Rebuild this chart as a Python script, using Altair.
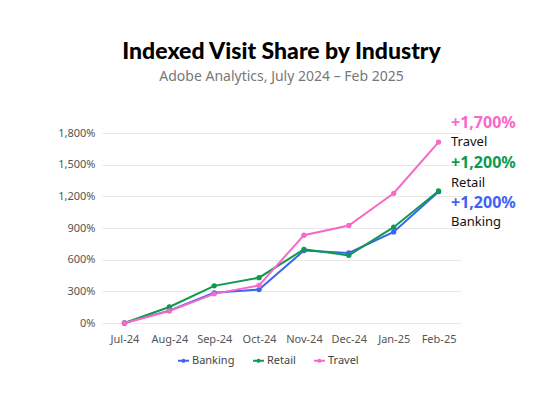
import altair as alt
import pandas as pd

months = ["Jul-24", "Aug-24", "Sep-24", "Oct-24", "Nov-24", "Dec-24", "Jan-25", "Feb-25"]
banking = [0, 117, 286, 317, 686, 663, 863, 1244]
retail = [0, 152, 352, 429, 698, 641, 908, 1251]
travel = [0, 114, 276, 356, 832, 924, 1229, 1714]
series = ["Banking", "Retail", "Travel"]
colors = ["#3E63F2", "#0E9A4E", "#F768C8"]
growth_labels = ["+1,200%", "+1,200%", "+1,700%"]

rows = []
for s, vals in zip(series, [banking, retail, travel]):
    for m, v in zip(months, vals):
        rows.append({"Month": m, "Industry": s, "Value": v / 100})
df = pd.DataFrame(rows)

FONT = "Noto Sans"
LINE_DOT = "M-1,0H1M0.18,0A0.18,0.18 0 1,1 -0.18,0A0.18,0.18 0 1,1 0.18,0"

base = alt.Chart(df).encode(
    x=alt.X("Month:N", sort=months, scale=alt.Scale(type="point", padding=0.5),
            axis=alt.Axis(title=None, labelAngle=0, domain=False, ticks=False, labelPadding=10,
                          labelColor="#555555", labelFontSize=11, labelFont=FONT, grid=False)),
    y=alt.Y("Value:Q", scale=alt.Scale(domain=[0, 18], nice=False),
            axis=alt.Axis(title=None, format=",.0%", values=[0, 3, 6, 9, 12, 15, 18], domain=False,
                          ticks=False, labelPadding=7, labelColor="#555555", labelFontSize=11,
                          labelFont=FONT, gridColor="#E8E8E8", gridWidth=1)),
    color=alt.Color("Industry:N", sort=series, scale=alt.Scale(domain=series, range=colors),
                    legend=alt.Legend(title=None, orient="none", legendX=75, legendY=221,
                                      direction="horizontal",
                                      symbolType=LINE_DOT, symbolStrokeWidth=2, symbolSize=120,
                                      labelOffset=2, labelFontSize=11, labelColor="#444444",
                                      labelFont=FONT, columnPadding=14)),
)

lines = base.mark_line(strokeWidth=2, point=alt.OverlayMarkDef(size=28, filled=True))

# end-of-line annotations
ann_layers = []
ann_specs = [
    ("Travel", growth_labels[2], colors[2], -10, 9),
    ("Retail", growth_labels[1], colors[1], 30, 50),
    ("Banking", growth_labels[0], colors[0], 70, 89),
]
ann_df = pd.DataFrame({"k": [0]})
for name, g, c, yg, yn in ann_specs:
    ann_layers.append(
        alt.Chart(ann_df).mark_text(align="left", baseline="middle", fontSize=16, fontWeight="bold",
                                    font=FONT, color=c)
        .encode(x=alt.value(349), y=alt.value(yg), text=alt.value(g))
    )
    ann_layers.append(
        alt.Chart(ann_df).mark_text(align="left", baseline="middle", fontSize=13,
                                    font=FONT, color="#111111")
        .encode(x=alt.value(349), y=alt.value(yn), text=alt.value(name))
    )

chart = alt.layer(lines, *ann_layers).properties(
    width=359,
    height=190,
    title=alt.TitleParams(
        text="Indexed Visit Share by Industry",
        subtitle="Adobe Analytics, July 2024 – Feb 2025",
        anchor="middle",
        font="Lato",
        fontSize=23,
        fontWeight=900,
        color="#000000",
        subtitleFont=FONT,
        subtitleFontSize=14,
        subtitleColor="#777777",
        subtitlePadding=6,
        offset=31,
    ),
    padding={"left": 94, "top": 125, "right": 89, "bottom": 80},
    autosize=alt.AutoSizeParams(type="none"),
    background="white",
).configure_view(stroke=None)

chart.save("out.html", embed_options={"renderer": "svg", "actions": False})
